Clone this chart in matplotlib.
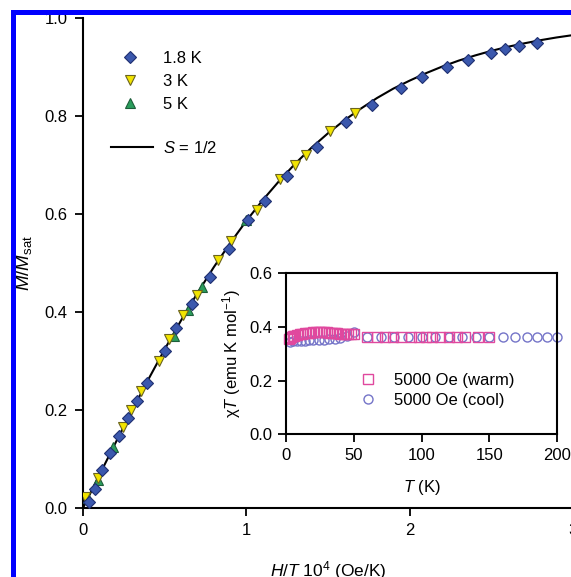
#!/usr/bin/env python3
"""Reduced magnetization vs H/T with chi*T inset."""

import matplotlib
matplotlib.use("Agg")
import matplotlib.pyplot as plt
from matplotlib.lines import Line2D
from matplotlib.patches import Rectangle

plt.rcParams["font.family"] = ["Liberation Sans", "DejaVu Sans"]
plt.rcParams["mathtext.fontset"] = "custom"
plt.rcParams["mathtext.rm"] = "Liberation Sans"
plt.rcParams["mathtext.it"] = "Liberation Sans:italic"
plt.rcParams["mathtext.default"] = "regular"

# main panel: M/Msat vs H/T (10^4 Oe/K)
x_18K = [0.038, 0.076, 0.119, 0.165, 0.220, 0.277, 0.332, 0.390, 0.502, 0.569,
         0.665, 0.777, 0.893, 1.010, 1.113, 1.252, 1.431, 1.609, 1.769, 1.945,
         2.078, 2.226, 2.357, 2.500, 2.585, 2.667, 2.777]
y_18K = [0.012, 0.039, 0.078, 0.112, 0.147, 0.184, 0.218, 0.255, 0.320, 0.367,
         0.416, 0.472, 0.528, 0.588, 0.627, 0.678, 0.736, 0.787, 0.823, 0.858,
         0.880, 0.900, 0.914, 0.929, 0.936, 0.943, 0.950]

x_3K = [0.012, 0.094, 0.243, 0.294, 0.355, 0.465, 0.528, 0.613, 0.695, 0.828,
        0.909, 1.066, 1.209, 1.297, 1.368, 1.515, 1.668]
y_3K = [0.023, 0.062, 0.165, 0.200, 0.239, 0.300, 0.345, 0.394, 0.435, 0.506,
        0.545, 0.608, 0.671, 0.700, 0.720, 0.769, 0.806]

x_5K = [0.030, 0.094, 0.185, 0.560, 0.645, 0.730, 1.000]
y_5K = [0.020, 0.058, 0.125, 0.352, 0.404, 0.452, 0.588]

# S = 1/2 curve
x_fit = [0.0, 0.1, 0.2, 0.3, 0.4, 0.5, 0.6, 0.7, 0.8, 0.9, 1.0, 1.1, 1.2, 1.3,
         1.4, 1.5, 1.6, 1.7, 1.8, 1.9, 2.0, 2.1, 2.2, 2.3, 2.4, 2.5, 2.6, 2.7,
         2.8, 2.9, 3.0, 3.1]
y_fit = [0.0, 0.0671, 0.1335, 0.1988, 0.2624, 0.3238, 0.3826, 0.4383, 0.4911,
         0.5401, 0.5860, 0.6282, 0.6670, 0.7030, 0.7356, 0.7648, 0.7912, 0.8148,
         0.8367, 0.8559, 0.8722, 0.8874, 0.9010, 0.9130, 0.9235, 0.9329, 0.9412,
         0.9482, 0.9547, 0.9603, 0.9651, 0.9694]

# inset: chi*T vs T
T_warm = [2, 3, 4, 5, 6, 8, 10, 12, 14, 16, 18, 20, 22, 24, 26, 28, 30, 32, 34,
          36, 38, 40, 42, 44, 46, 48, 50, 60, 67, 73, 79, 85, 92, 98, 103, 108,
          114, 120, 126, 132, 142, 150]
chiT_warm = [0.355, 0.358, 0.362, 0.365, 0.368, 0.371, 0.373, 0.375, 0.377,
             0.378, 0.379, 0.380, 0.381, 0.381, 0.381, 0.380, 0.380, 0.379,
             0.378, 0.377, 0.376, 0.375, 0.375, 0.374, 0.373, 0.372, 0.375,
             0.364, 0.364, 0.364, 0.364, 0.364, 0.364, 0.364, 0.364, 0.364,
             0.364, 0.364, 0.364, 0.364, 0.364, 0.364]

T_cool = [3, 5, 8, 11, 14, 17, 20, 24, 28, 32, 36, 40, 45, 50, 60, 70, 80, 90,
          100, 110, 120, 130, 140, 150, 160.5, 169, 177.5, 185, 192.5, 200]
chiT_cool = [0.345, 0.346, 0.347, 0.348, 0.349, 0.350, 0.351, 0.352, 0.353,
             0.355, 0.357, 0.360, 0.365, 0.382, 0.364, 0.364, 0.364, 0.364,
             0.364, 0.364, 0.364, 0.364, 0.364, 0.364, 0.364, 0.364, 0.364,
             0.364, 0.364, 0.364]

W, H = 571, 577
fig = plt.figure(figsize=(W / 100, H / 100), dpi=100)

ax = fig.add_axes([83 / W, (H - 508) / H, 490 / W, 490 / H])
ax.plot(x_fit, y_fit, color="black", lw=1.5, zorder=2)
ax.plot(x_5K, y_5K, ls="none", marker="^", ms=7.5, mfc="#2a9d5c",
        mec="#1d5e3a", mew=0.8, zorder=3)
ax.plot(x_3K, y_3K, ls="none", marker="v", ms=7.5, mfc="#f2e400",
        mec="#6b6420", mew=0.8, zorder=4)
ax.plot(x_18K, y_18K, ls="none", marker="D", ms=6.3, mfc="#3b58ad",
        mec="#1f2f70", mew=0.8, zorder=5)

ax.set_xlim(0, 3)
ax.set_ylim(0, 1.0)
ax.set_xticks([0, 1, 2, 3])
ax.set_yticks([0.0, 0.2, 0.4, 0.6, 0.8, 1.0])
ax.set_yticklabels(["0.0", "0.2", "0.4", "0.6", "0.8", "1.0"])
for side in ("top", "right"):
    ax.spines[side].set_visible(False)
for side in ("left", "bottom"):
    ax.spines[side].set_linewidth(1.5)
ax.tick_params(direction="out", length=6, width=1.3, labelsize=12, pad=5)
ax.set_xlabel(r"$\mathit{H/T}$ 10$^4$ (Oe/K)", fontsize=12.5)
ax.set_ylabel(r"$\mathit{M/M}_{\rm sat}$", fontsize=13.5)
ax.xaxis.set_label_coords(0.5, -0.105)
ax.yaxis.set_label_coords(-0.100, 0.5)

mk_handles = [
    Line2D([], [], ls="none", marker="D", ms=6.3, mfc="#3b58ad", mec="#1f2f70", mew=0.8),
    Line2D([], [], ls="none", marker="v", ms=7.5, mfc="#f2e400", mec="#6b6420", mew=0.8),
    Line2D([], [], ls="none", marker="^", ms=7.5, mfc="#2a9d5c", mec="#1d5e3a", mew=0.8),
]
leg1 = ax.legend(mk_handles, ["1.8 K", "3 K", "5 K"], loc="center left",
                 bbox_to_anchor=(0.079, 0.870), frameon=False, fontsize=12,
                 borderpad=0, borderaxespad=0, handlelength=1.0,
                 handletextpad=1.48, labelspacing=0.48)
ax.add_artist(leg1)
ax.legend([Line2D([], [], color="black", lw=1.5)], [r"$\mathit{S}$ = 1/2"],
          loc="center left", bbox_to_anchor=(0.057, 0.735), frameon=False,
          fontsize=12, borderpad=0, borderaxespad=0, handlelength=2.52,
          handletextpad=0.6)

# inset
ins = fig.add_axes([286 / W, (H - 434.3) / H, 271 / W, 161 / H])
ins.plot(T_cool, chiT_cool, ls="none", marker="o", ms=6.5, mfc="none",
         mec="#7474c8", mew=1.0, clip_on=False, label="5000 Oe (cool)")
ins.plot(T_warm, chiT_warm, ls="none", marker="s", ms=6.5, mfc="none",
         mec="#e0489e", mew=1.0, clip_on=False, label="5000 Oe (warm)")
ins.set_xlim(0, 200)
ins.set_ylim(0, 0.6)
ins.set_xticks([0, 50, 100, 150, 200])
ins.set_yticks([0.0, 0.2, 0.4, 0.6])
ins.set_yticklabels(["0.0", "0.2", "0.4", "0.6"])
for sp in ins.spines.values():
    sp.set_linewidth(1.5)
ins.tick_params(direction="out", length=6, width=1.3, labelsize=12, pad=4)
ins.set_xlabel(r"$\mathit{T}$ (K)", fontsize=12)
ins.set_ylabel(r"$\chi\mathit{T}$ (emu K mol$^{-1}$)", fontsize=12)
ins.xaxis.set_label_coords(0.5, -0.27)
ins.yaxis.set_label_coords(-0.158, 0.5)
h, l = ins.get_legend_handles_labels()
ins.legend(h[::-1], l[::-1], loc="center left", bbox_to_anchor=(0.272, 0.272),
           frameon=False, fontsize=12, borderpad=0, borderaxespad=0,
           handlelength=1.0, handletextpad=1.06, labelspacing=0.32)

# blue frame from the original page crop
fig.add_artist(Rectangle((11 / W, 0), 5 / W, (H - 10) / H, transform=fig.transFigure,
                         color="#0000ff", lw=0, zorder=10))
fig.add_artist(Rectangle((11 / W, (H - 15) / H), (W - 11) / W, 5 / H,
                         transform=fig.transFigure, color="#0000ff", lw=0, zorder=10))

fig.savefig("out.png", dpi=100)
